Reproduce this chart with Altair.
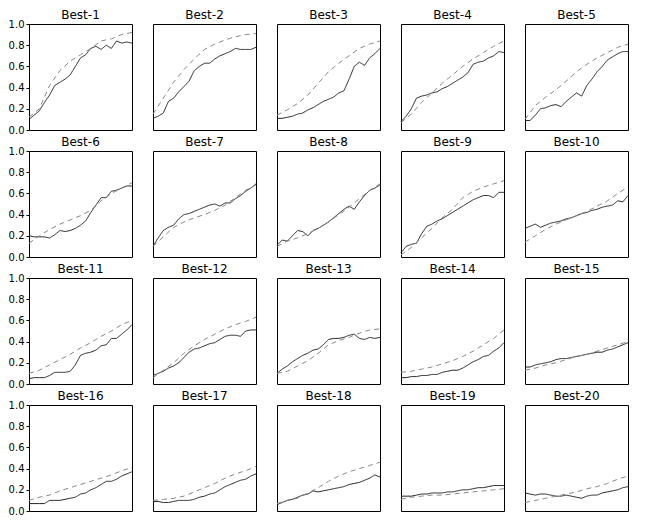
import altair as alt
import pandas as pd

panels = [f"Best-{i}" for i in range(1, 21)]

# solid series: 21 points each, x = 0, 0.05, ..., 1.0
solid = {
    "Best-1": [0.10, 0.14, 0.18, 0.26, 0.33, 0.42, 0.45, 0.48, 0.52, 0.60, 0.68, 0.71, 0.77, 0.79, 0.76, 0.80, 0.77, 0.84, 0.82, 0.83, 0.82],
    "Best-2": [0.11, 0.13, 0.16, 0.27, 0.30, 0.36, 0.41, 0.46, 0.56, 0.60, 0.63, 0.63, 0.67, 0.70, 0.72, 0.74, 0.77, 0.76, 0.76, 0.76, 0.78],
    "Best-3": [0.11, 0.11, 0.12, 0.13, 0.15, 0.16, 0.19, 0.21, 0.24, 0.27, 0.29, 0.31, 0.35, 0.37, 0.48, 0.60, 0.64, 0.61, 0.68, 0.72, 0.77],
    "Best-4": [0.08, 0.13, 0.20, 0.30, 0.32, 0.33, 0.35, 0.36, 0.39, 0.41, 0.44, 0.47, 0.50, 0.54, 0.62, 0.64, 0.65, 0.68, 0.70, 0.74, 0.73],
    "Best-5": [0.09, 0.09, 0.14, 0.20, 0.21, 0.23, 0.24, 0.22, 0.27, 0.31, 0.35, 0.32, 0.42, 0.48, 0.55, 0.60, 0.66, 0.69, 0.72, 0.74, 0.74],
    "Best-6": [0.20, 0.19, 0.19, 0.19, 0.18, 0.21, 0.25, 0.24, 0.25, 0.27, 0.30, 0.34, 0.42, 0.49, 0.56, 0.56, 0.62, 0.63, 0.65, 0.67, 0.67],
    "Best-7": [0.10, 0.18, 0.25, 0.28, 0.30, 0.36, 0.40, 0.41, 0.43, 0.45, 0.47, 0.49, 0.50, 0.48, 0.51, 0.51, 0.55, 0.58, 0.62, 0.65, 0.69],
    "Best-8": [0.11, 0.16, 0.15, 0.20, 0.25, 0.24, 0.20, 0.25, 0.27, 0.30, 0.33, 0.37, 0.41, 0.45, 0.48, 0.45, 0.52, 0.58, 0.63, 0.65, 0.68],
    "Best-9": [0.04, 0.10, 0.12, 0.13, 0.22, 0.29, 0.31, 0.34, 0.36, 0.39, 0.42, 0.45, 0.48, 0.51, 0.54, 0.56, 0.58, 0.58, 0.56, 0.61, 0.61],
    "Best-10": [0.27, 0.29, 0.31, 0.28, 0.30, 0.32, 0.33, 0.34, 0.36, 0.37, 0.39, 0.41, 0.42, 0.44, 0.45, 0.47, 0.48, 0.49, 0.53, 0.52, 0.58],
    "Best-11": [0.05, 0.06, 0.06, 0.06, 0.08, 0.11, 0.11, 0.11, 0.12, 0.18, 0.27, 0.29, 0.30, 0.32, 0.36, 0.37, 0.43, 0.43, 0.47, 0.51, 0.56],
    "Best-12": [0.08, 0.10, 0.12, 0.15, 0.17, 0.20, 0.25, 0.30, 0.33, 0.34, 0.36, 0.38, 0.39, 0.42, 0.45, 0.46, 0.46, 0.45, 0.50, 0.51, 0.51],
    "Best-13": [0.10, 0.14, 0.17, 0.21, 0.24, 0.27, 0.29, 0.32, 0.33, 0.37, 0.42, 0.43, 0.43, 0.44, 0.46, 0.47, 0.43, 0.42, 0.44, 0.43, 0.44],
    "Best-14": [0.06, 0.06, 0.07, 0.07, 0.08, 0.08, 0.09, 0.09, 0.11, 0.12, 0.13, 0.13, 0.15, 0.18, 0.21, 0.23, 0.26, 0.27, 0.31, 0.34, 0.39],
    "Best-15": [0.16, 0.16, 0.18, 0.19, 0.20, 0.21, 0.23, 0.24, 0.24, 0.25, 0.26, 0.27, 0.28, 0.29, 0.30, 0.30, 0.32, 0.33, 0.35, 0.37, 0.39],
    "Best-16": [0.07, 0.07, 0.07, 0.07, 0.10, 0.10, 0.10, 0.11, 0.12, 0.13, 0.16, 0.17, 0.20, 0.22, 0.25, 0.28, 0.28, 0.30, 0.33, 0.35, 0.37],
    "Best-17": [0.09, 0.09, 0.08, 0.08, 0.09, 0.10, 0.10, 0.10, 0.11, 0.13, 0.14, 0.16, 0.17, 0.20, 0.23, 0.25, 0.27, 0.29, 0.30, 0.33, 0.35],
    "Best-18": [0.06, 0.08, 0.10, 0.11, 0.13, 0.15, 0.16, 0.19, 0.18, 0.19, 0.20, 0.21, 0.22, 0.23, 0.25, 0.26, 0.27, 0.29, 0.31, 0.34, 0.32],
    "Best-19": [0.14, 0.14, 0.14, 0.15, 0.16, 0.16, 0.17, 0.17, 0.17, 0.18, 0.18, 0.19, 0.20, 0.20, 0.21, 0.22, 0.22, 0.23, 0.24, 0.24, 0.24],
    "Best-20": [0.17, 0.16, 0.15, 0.16, 0.16, 0.15, 0.14, 0.14, 0.15, 0.14, 0.13, 0.12, 0.14, 0.15, 0.15, 0.17, 0.18, 0.19, 0.20, 0.22, 0.23],
}

# dashed series: 11 points each, x = 0, 0.1, ..., 1.0
dashed = {
    "Best-1": [0.12, 0.20, 0.42, 0.56, 0.65, 0.71, 0.77, 0.84, 0.86, 0.90, 0.92],
    "Best-2": [0.15, 0.30, 0.45, 0.57, 0.67, 0.76, 0.81, 0.85, 0.88, 0.90, 0.91],
    "Best-3": [0.14, 0.19, 0.25, 0.33, 0.44, 0.55, 0.63, 0.70, 0.77, 0.81, 0.84],
    "Best-4": [0.07, 0.15, 0.26, 0.35, 0.44, 0.52, 0.60, 0.67, 0.73, 0.79, 0.84],
    "Best-5": [0.10, 0.23, 0.31, 0.38, 0.46, 0.55, 0.62, 0.68, 0.73, 0.78, 0.81],
    "Best-6": [0.13, 0.20, 0.26, 0.31, 0.35, 0.39, 0.44, 0.53, 0.60, 0.65, 0.70],
    "Best-7": [0.10, 0.19, 0.28, 0.33, 0.37, 0.40, 0.44, 0.49, 0.56, 0.63, 0.68],
    "Best-8": [0.10, 0.15, 0.18, 0.22, 0.27, 0.33, 0.40, 0.47, 0.55, 0.63, 0.69],
    "Best-9": [0.02, 0.09, 0.18, 0.27, 0.37, 0.45, 0.56, 0.62, 0.66, 0.69, 0.72],
    "Best-10": [0.14, 0.20, 0.26, 0.31, 0.35, 0.39, 0.43, 0.48, 0.53, 0.60, 0.66],
    "Best-11": [0.10, 0.13, 0.18, 0.23, 0.28, 0.34, 0.39, 0.45, 0.50, 0.56, 0.60],
    "Best-12": [0.06, 0.13, 0.20, 0.29, 0.36, 0.42, 0.47, 0.52, 0.56, 0.59, 0.63],
    "Best-13": [0.10, 0.12, 0.17, 0.22, 0.29, 0.37, 0.41, 0.44, 0.48, 0.51, 0.52],
    "Best-14": [0.11, 0.12, 0.14, 0.16, 0.19, 0.22, 0.26, 0.31, 0.37, 0.43, 0.51],
    "Best-15": [0.13, 0.15, 0.18, 0.20, 0.23, 0.26, 0.28, 0.31, 0.34, 0.37, 0.40],
    "Best-16": [0.10, 0.13, 0.15, 0.19, 0.22, 0.25, 0.28, 0.31, 0.34, 0.38, 0.41],
    "Best-17": [0.10, 0.11, 0.12, 0.14, 0.18, 0.22, 0.26, 0.31, 0.35, 0.38, 0.42],
    "Best-18": [0.07, 0.10, 0.12, 0.17, 0.22, 0.28, 0.33, 0.37, 0.40, 0.43, 0.46],
    "Best-19": [0.11, 0.13, 0.14, 0.15, 0.15, 0.16, 0.17, 0.18, 0.19, 0.20, 0.21],
    "Best-20": [0.08, 0.10, 0.12, 0.14, 0.16, 0.18, 0.21, 0.23, 0.26, 0.30, 0.33],
}

rows = []
for p in panels:
    s = solid[p]
    for i, v in enumerate(s):
        rows.append({"panel": p, "series": "solid", "x": i / (len(s) - 1), "y": v})
    d = dashed[p]
    for i, v in enumerate(d):
        rows.append({"panel": p, "series": "dashed", "x": i / (len(d) - 1), "y": v})
df = pd.DataFrame(rows)

base = alt.Chart(df).mark_line(strokeWidth=1).encode(
    x=alt.X("x:Q", axis=None, scale=alt.Scale(domain=[0, 1], nice=False, zero=False)),
    y=alt.Y("y:Q", title=None,
            scale=alt.Scale(domain=[0, 1], nice=False),
            axis=alt.Axis(values=[0, 0.2, 0.4, 0.6, 0.8, 1.0], format=".1f",
                          grid=False, domain=False, tickSize=3, tickColor="#000",
                          labelFontSize=10, labelColor="#000", labelPadding=2,
                          labelFont="DejaVu Sans")),
    color=alt.Color("series:N", legend=None,
                    scale=alt.Scale(domain=["solid", "dashed"], range=["#222222", "#888888"])),
    strokeDash=alt.StrokeDash("series:N", legend=None,
                              scale=alt.Scale(domain=["solid", "dashed"], range=[[1, 0], [5, 4]])),
    detail="series:N",
).properties(width=103, height=106)

chart = base.facet(
    facet=alt.Facet("panel:N", sort=panels, title=None,
                    header=alt.Header(labelFontSize=12, labelFont="DejaVu Sans",
                                      labelColor="#000", labelPadding=2)),
    columns=5,
    spacing={"column": 21, "row": 21},
    bounds="flush",
).properties(
    padding={"left": 0, "top": 0, "right": 0, "bottom": 2}
).configure_view(stroke="#000", strokeWidth=1)

chart.save("out.html", embed_options={"renderer": "svg", "actions": False})
